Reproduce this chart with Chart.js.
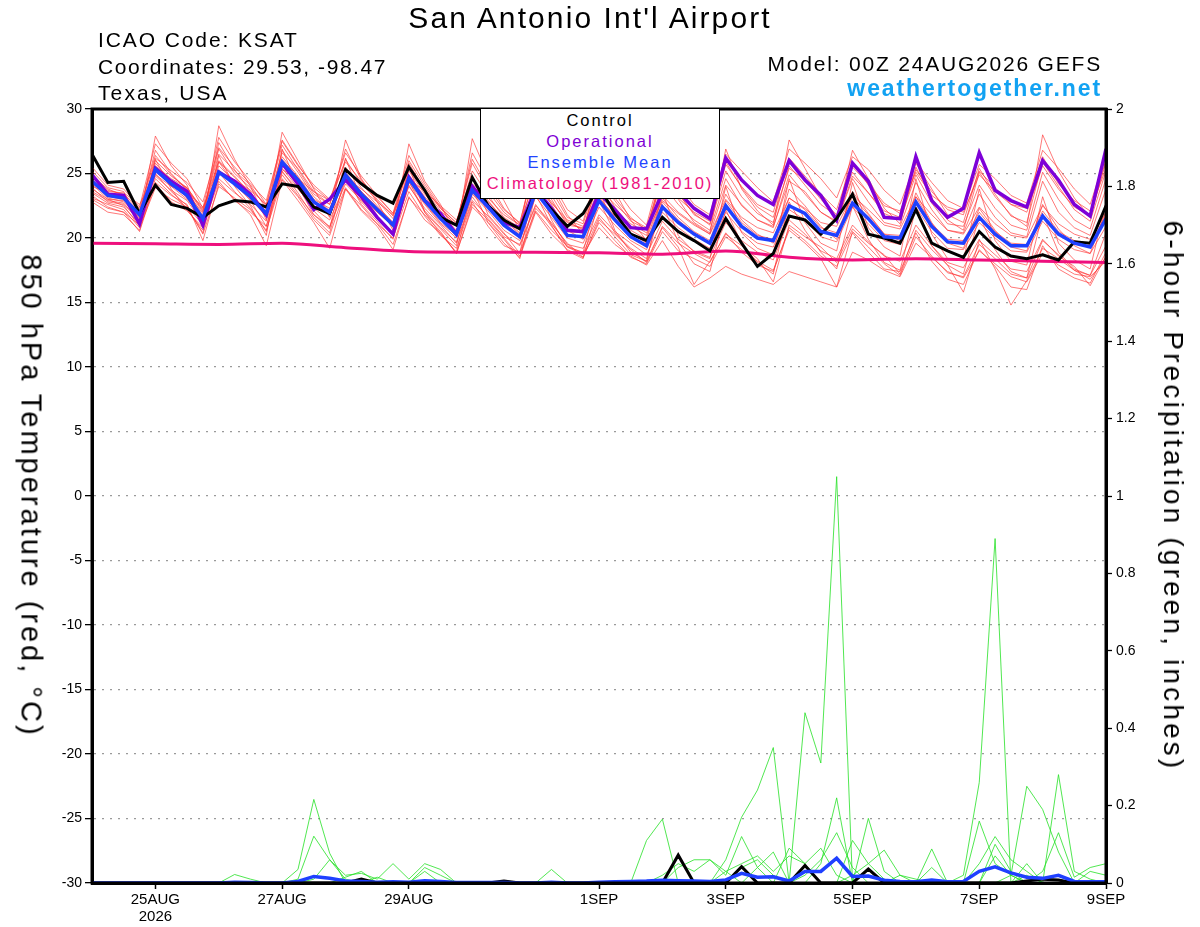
<!DOCTYPE html>
<html>
<head>
<meta charset="utf-8">
<title>KSAT GEFS meteogram</title>
<script src="https://cdn.jsdelivr.net/npm/chart.js@4.4.1/dist/chart.umd.min.js"></script>
<style>
  body { margin: 0; background: #fff; }
  #wrap { position: relative; width: 1200px; height: 927px; overflow: hidden;
          font-family: "Liberation Sans", Arial, sans-serif; color: #000; }
  #meteogram { position: absolute; left: 0; top: 0; }
  .txt { position: absolute; white-space: nowrap; }
  #title { left: 290px; width: 600px; top: 3px; text-align: center;
           font-size: 30px; line-height: 30px; letter-spacing: 2.1px; }
  .info { left: 98px; font-size: 21px; line-height: 21px; }
  #model { left: 600px; width: 502px; top: 53px; text-align: right;
           font-size: 21px; line-height: 21px; letter-spacing: 1.8px; }
  #site { left: 600px; width: 502px; top: 77px; text-align: right; font-weight: bold;
          font-size: 23px; line-height: 23px; letter-spacing: 1.9px; color: #12a2f2; }
  #legend { position: absolute; left: 480px; top: 108px; width: 240px; height: 91px;
            box-sizing: border-box; border: 1.5px solid #000; background: #fff;
            padding-top: 1px; text-align: center; font-size: 16.5px;
            line-height: 21.1px; letter-spacing: 2px; }
  .vtitle { position: absolute; white-space: nowrap; transform: translate(-50%, -50%) rotate(90deg); }
  #ltitle { left: 31px; top: 496px; font-size: 29px; letter-spacing: 3px; }
  #rtitle { left: 1173px; top: 496px; font-size: 28px; letter-spacing: 3.15px; }
</style>
</head>
<body>
<div id="wrap">
  <canvas id="meteogram" width="1200" height="927"></canvas>
  <div class="txt" id="title">San Antonio Int'l Airport</div>
  <div class="txt info" style="top:29px; letter-spacing:1.9px">ICAO Code: KSAT</div>
  <div class="txt info" style="top:55.6px; letter-spacing:1.55px">Coordinates: 29.53, -98.47</div>
  <div class="txt info" style="top:82.3px; letter-spacing:2.1px">Texas, USA</div>
  <div class="txt" id="model">Model: 00Z 24AUG2026 GEFS</div>
  <div class="txt" id="site">weathertogether.net</div>
  <div id="legend">
    <div style="color:#000">Control</div>
    <div style="color:#8000d4">Operational</div>
    <div style="color:#2244ff">Ensemble Mean</div>
    <div style="color:#ee0f7d">Climatology (1981-2010)</div>
  </div>
  <div class="vtitle" id="ltitle">850 hPa Temperature (red, °C)</div>
  <div class="vtitle" id="rtitle">6-hour Precipitation (green, inches)</div>
</div>
<script>
// time axis: hours after 00Z 24AUG2026, 6-hourly out to 384 h
const hours6 = Array.from({ length: 65 }, (_, i) => i * 6);
const hoursDaily = Array.from({ length: 17 }, (_, d) => d * 24);

const tickHours = [24, 72, 120, 192, 240, 288, 336, 384];
const tickLabels = [['25AUG', '2026'], '27AUG', '29AUG', '1SEP', '3SEP', '5SEP', '7SEP', '9SEP'];

// 850 hPa temperature (C)
const controlTemp = [
  26.5, 24.3, 24.4, 21.9, 24.1, 22.6, 22.3, 21.6, 22.5, 22.9, 22.8, 22.4, 24.2,
  24.0, 22.4, 21.9, 25.3, 24.2, 23.3, 22.7, 25.5, 23.7, 21.6, 21.0, 24.7, 22.5,
  21.4, 20.7, 23.6, 22.2, 20.9, 21.9, 24.0, 21.9, 20.3, 19.8, 21.6, 20.5, 19.8,
  19.0, 21.5, 19.6, 17.8, 18.8, 21.7, 21.4, 20.3, 21.5, 23.4, 20.3, 20.0, 19.6,
  22.2, 19.6, 19.0, 18.5, 20.5, 19.3, 18.6, 18.4, 18.7, 18.3, 19.7, 19.6, 22.5
];
const opTemp = [
  24.9, 23.4, 23.3, 21.1, 25.4, 24.4, 23.6, 21.0, 25.1, 24.4, 23.4, 21.8, 25.8,
  24.2, 22.2, 23.0, 24.5, 23.2, 21.6, 20.3, 24.7, 22.9, 21.9, 20.3, 24.0, 22.5,
  21.2, 20.8, 23.8, 22.3, 20.6, 20.5, 23.5, 22.2, 20.8, 20.7, 23.5, 23.6, 22.3,
  21.5, 26.2, 24.5, 23.3, 22.6, 26.0, 24.5, 23.3, 21.4, 25.8, 24.4, 21.6, 21.5,
  26.3, 22.9, 21.6, 22.3, 26.6, 23.7, 22.9, 22.4, 26.0, 24.5, 22.6, 21.7, 26.9
];
const meanTemp = [
  24.4, 23.3, 23.1, 21.8, 25.3, 24.2, 23.3, 21.5, 25.1, 24.2, 23.2, 21.9, 25.9,
  24.5, 22.8, 22.0, 24.9, 23.4, 22.2, 21.0, 24.6, 22.9, 21.5, 20.3, 23.7, 22.4,
  21.0, 20.1, 23.6, 22.0, 20.2, 20.1, 22.9, 21.4, 20.1, 19.4, 22.4, 21.2, 20.3,
  19.6, 22.5, 20.9, 20.0, 19.8, 22.5, 21.9, 20.5, 20.2, 22.7, 21.5, 20.1, 20.0,
  22.8, 20.9, 19.7, 19.6, 21.6, 20.3, 19.4, 19.4, 21.7, 20.3, 19.6, 19.3, 21.5
];
// daily climatology 1981-2010
const climoTemp = [19.6, 19.55, 19.5, 19.6, 19.25, 18.95, 18.9, 18.9, 18.85, 18.75, 19.0, 18.5, 18.3, 18.4, 18.3, 18.2, 18.1];

// ensemble members, one row per member
const tempMembers = [
  [25.2, 23.9, 23.6, 21.2, 27.9, 25.6, 24.1, 21.0, 28.7, 26.1, 24.0, 21.4, 28.2,
   26.0, 23.8, 21.6, 27.6, 24.6, 22.8, 20.6, 27.3, 24.4, 22.6, 20.1, 27.7, 24.8,
   22.9, 20.6, 26.8, 24.1, 21.8, 20.3, 25.8, 23.6, 21.4, 19.8, 25.3, 23.0, 21.2,
   20.4, 26.9, 23.8, 22.1, 21.0, 27.6, 25.4, 23.2, 21.5, 26.8, 24.6, 22.3, 21.1,
   25.5, 23.1, 21.4, 20.6, 25.1, 23.2, 21.8, 20.9, 28.0, 25.2, 23.1, 21.6, 25.9],
  [23.1, 22.6, 22.2, 20.8, 23.9, 23.0, 22.4, 20.3, 24.0, 23.1, 22.2, 20.6, 24.6,
   23.2, 21.4, 20.2, 23.8, 22.5, 21.1, 19.5, 23.1, 21.8, 20.5, 18.8, 22.6, 21.4,
   20.0, 18.6, 22.3, 21.1, 19.6, 18.5, 21.4, 20.3, 19.1, 18.1, 20.8, 19.3, 16.4,
   18.2, 20.3, 19.4, 18.4, 16.6, 21.0, 20.1, 19.3, 18.1, 20.7, 19.6, 18.7, 17.2,
   20.6, 19.1, 17.9, 15.8, 19.8, 18.7, 17.6, 17.4, 19.9, 18.6, 17.8, 16.3, 18.6],
  [24.9, 23.7, 23.4, 22.3, 26.4, 24.9, 23.8, 22.0, 26.9, 25.0, 23.9, 22.5, 27.2,
   25.3, 23.4, 22.6, 26.1, 24.2, 22.9, 21.5, 25.8, 23.7, 22.1, 21.0, 25.2, 23.3,
   21.6, 20.8, 25.1, 23.0, 21.0, 20.8, 24.4, 22.4, 20.9, 20.2, 24.2, 22.6, 21.4,
   20.6, 24.6, 22.5, 21.4, 20.8, 24.9, 23.4, 22.0, 21.2, 24.6, 22.8, 21.2, 20.9,
   24.3, 22.2, 20.6, 20.4, 23.4, 21.6, 20.4, 20.1, 24.4, 22.0, 20.8, 20.2, 23.8],
  [23.6, 22.9, 22.7, 21.3, 24.8, 23.7, 22.9, 21.2, 24.6, 23.5, 22.6, 21.3, 25.1,
   23.8, 22.3, 21.4, 24.2, 22.9, 21.7, 20.4, 24.0, 22.3, 21.0, 19.6, 22.9, 21.7,
   20.3, 19.4, 22.5, 21.2, 19.5, 19.2, 21.8, 20.5, 19.6, 18.7, 21.3, 19.9, 19.0,
   18.5, 21.2, 19.8, 18.9, 18.3, 21.4, 20.3, 19.0, 18.4, 21.0, 19.7, 18.6, 18.2,
   21.0, 19.4, 18.1, 17.7, 19.9, 17.6, 14.8, 16.7, 19.2, 18.4, 17.5, 17.1, 19.4],
  [24.0, 23.5, 23.2, 21.9, 26.8, 25.0, 23.7, 21.7, 27.4, 25.3, 23.6, 21.6, 26.8,
   25.1, 23.2, 22.1, 25.5, 23.9, 22.5, 21.2, 25.2, 23.4, 21.9, 20.6, 24.6, 22.9,
   21.4, 20.3, 24.7, 22.6, 20.6, 19.9, 23.6, 21.9, 20.4, 19.6, 23.1, 21.6, 20.5,
   19.8, 23.4, 21.4, 20.3, 19.6, 23.8, 22.5, 20.9, 19.9, 23.6, 21.9, 20.3, 19.8,
   23.5, 21.2, 19.6, 19.2, 22.3, 20.6, 19.3, 19.0, 22.6, 20.7, 19.4, 18.8, 22.1],
  [24.6, 23.1, 22.8, 21.6, 25.8, 24.4, 23.5, 21.9, 25.9, 24.7, 23.5, 22.0, 26.3,
   24.8, 23.0, 22.3, 25.1, 23.6, 22.4, 21.2, 24.9, 23.2, 21.8, 20.5, 24.1, 22.8,
   21.5, 20.4, 24.3, 22.8, 21.2, 20.7, 23.9, 22.6, 21.5, 20.8, 24.4, 23.1, 22.0,
   21.3, 25.7, 24.0, 22.6, 22.0, 26.2, 24.8, 23.4, 22.2, 25.9, 24.1, 22.5, 22.1,
   25.1, 23.3, 22.4, 22.0, 24.9, 23.6, 22.6, 22.3, 26.3, 24.2, 22.9, 22.1, 25.4],
  [23.3, 22.4, 22.0, 20.5, 24.3, 23.3, 22.6, 19.8, 24.2, 23.0, 21.8, 19.4, 24.5,
   22.9, 21.2, 19.2, 23.8, 22.1, 20.9, 19.1, 23.2, 21.4, 20.4, 18.8, 22.4, 21.2,
   19.6, 18.5, 22.0, 20.3, 19.1, 18.5, 21.2, 19.8, 18.5, 18.0, 20.5, 19.0, 18.4,
   17.8, 20.1, 19.1, 18.2, 17.5, 20.6, 19.6, 18.4, 16.2, 20.5, 19.3, 18.0, 17.1,
   20.1, 18.6, 17.3, 17.0, 19.5, 18.4, 17.2, 16.9, 19.8, 18.7, 17.5, 16.8, 18.5],
  [24.2, 23.0, 22.9, 22.0, 25.6, 24.6, 23.9, 22.2, 26.0, 24.8, 23.4, 22.2, 25.6,
   24.2, 22.5, 21.8, 24.6, 23.1, 22.0, 20.9, 24.3, 22.6, 21.1, 20.0, 23.4, 22.1,
   20.6, 19.8, 23.2, 21.6, 20.0, 19.6, 22.4, 21.0, 19.8, 19.1, 22.0, 20.8, 19.9,
   19.2, 22.0, 20.5, 19.6, 19.3, 22.2, 21.4, 20.1, 19.7, 22.4, 21.1, 19.8, 19.5,
   22.4, 20.5, 19.2, 19.1, 21.2, 20.0, 19.0, 18.9, 21.3, 19.9, 19.1, 18.8, 20.9],
  [25.5, 24.1, 23.8, 22.4, 27.3, 25.8, 24.6, 22.3, 27.8, 25.9, 24.4, 22.6, 27.6,
   25.7, 23.9, 22.9, 26.6, 24.8, 23.3, 21.9, 26.4, 24.2, 22.4, 21.1, 26.1, 23.9,
   22.2, 21.2, 25.9, 23.7, 21.6, 21.1, 25.1, 23.1, 21.6, 20.6, 25.0, 23.4, 21.9,
   21.0, 25.2, 23.2, 21.9, 21.2, 25.6, 24.1, 22.6, 21.7, 25.1, 23.5, 21.9, 21.4,
   24.9, 22.7, 21.1, 20.9, 24.1, 22.3, 21.0, 20.6, 25.1, 23.0, 21.4, 20.7, 24.6],
  [23.8, 23.0, 22.5, 20.9, 26.1, 23.8, 22.2, 20.6, 26.4, 24.0, 22.5, 20.2, 26.9,
   24.0, 21.8, 20.7, 26.2, 23.0, 21.5, 20.2, 25.6, 22.0, 20.7, 19.4, 24.8, 21.8,
   20.4, 18.8, 24.6, 21.4, 19.3, 18.9, 23.8, 20.6, 18.9, 18.2, 23.6, 20.2, 18.9,
   18.4, 24.0, 20.4, 19.2, 18.7, 24.6, 21.2, 19.6, 19.0, 24.3, 20.8, 19.3, 18.6,
   24.6, 20.3, 18.4, 18.3, 23.8, 19.8, 18.2, 17.9, 23.2, 19.6, 18.3, 17.6, 22.8],
  [24.7, 23.6, 23.5, 22.6, 24.9, 24.0, 23.6, 22.4, 25.0, 24.5, 23.7, 22.6, 25.3,
   24.6, 23.6, 22.9, 24.7, 23.8, 22.8, 21.8, 24.6, 23.6, 22.5, 21.4, 24.2, 23.1,
   21.8, 21.0, 23.9, 22.7, 21.4, 20.9, 23.3, 22.1, 21.1, 20.4, 22.9, 21.9, 21.0,
   20.3, 23.0, 21.6, 20.8, 20.4, 23.1, 22.3, 21.2, 20.9, 23.3, 22.2, 21.0, 20.7,
   23.2, 21.8, 20.6, 20.3, 22.4, 21.1, 20.2, 20.0, 22.5, 21.1, 20.3, 19.9, 22.0],
  [23.0, 22.3, 22.0, 21.0, 24.2, 22.8, 22.1, 20.8, 24.4, 22.9, 22.0, 20.9, 24.9,
   23.3, 21.8, 20.9, 23.9, 22.2, 21.1, 20.0, 23.6, 21.7, 20.2, 19.2, 22.8, 20.9,
   19.4, 18.9, 22.1, 20.6, 19.4, 18.8, 21.6, 20.1, 18.7, 18.2, 20.9, 19.6, 18.8,
   18.1, 20.4, 18.9, 17.9, 17.4, 20.8, 19.8, 18.6, 17.8, 20.4, 18.9, 17.6, 17.4,
   20.4, 18.2, 16.8, 16.4, 19.1, 17.8, 16.2, 16.0, 19.4, 17.6, 16.9, 16.5, 18.9],
  [24.3, 23.2, 23.0, 21.5, 25.1, 24.3, 23.1, 21.3, 25.6, 24.4, 23.0, 21.7, 26.1,
   24.7, 22.9, 21.7, 25.0, 23.6, 22.3, 20.8, 24.8, 23.0, 21.6, 20.1, 23.9, 22.6,
   21.1, 20.0, 23.8, 22.2, 20.3, 20.0, 23.2, 21.6, 20.2, 19.3, 22.8, 21.4, 20.4,
   19.5, 22.9, 21.2, 20.2, 19.9, 23.1, 22.2, 20.8, 20.4, 23.2, 21.8, 20.3, 20.2,
   23.2, 21.1, 19.9, 19.8, 22.0, 20.5, 19.6, 19.5, 22.1, 20.5, 19.8, 19.5, 21.8],
  [23.9, 22.8, 22.6, 21.4, 25.5, 24.0, 23.0, 21.6, 25.3, 24.1, 23.1, 21.8, 25.7,
   24.3, 22.7, 21.9, 24.8, 23.2, 22.0, 21.0, 24.5, 22.7, 21.2, 20.2, 23.5, 22.3,
   21.2, 20.2, 23.5, 22.1, 20.5, 20.4, 23.1, 21.7, 20.6, 19.9, 23.3, 22.0, 21.1,
   20.3, 24.1, 22.6, 21.4, 20.9, 24.4, 23.6, 22.0, 21.3, 24.8, 23.5, 22.1, 21.6,
   25.3, 23.6, 22.2, 21.8, 25.2, 23.9, 22.6, 22.0, 25.6, 23.8, 22.4, 21.7, 26.1],
  [23.5, 22.7, 22.4, 21.1, 25.0, 23.6, 22.5, 21.0, 25.9, 24.2, 22.9, 20.9, 25.4,
   23.9, 22.1, 20.8, 24.5, 22.8, 21.5, 20.3, 24.1, 22.1, 20.8, 19.7, 23.2, 21.5,
   20.1, 19.5, 22.6, 20.9, 19.3, 18.7, 20.8, 19.5, 18.6, 17.9, 19.8, 17.8, 16.2,
   16.9, 17.8, 17.2, 16.8, 16.4, 17.4, 17.0, 16.6, 16.2, 18.9, 18.3, 17.5, 17.0,
   19.6, 18.5, 17.4, 16.9, 19.0, 18.0, 17.0, 16.6, 18.8, 17.9, 17.2, 17.0, 18.2],
  [24.8, 23.8, 23.3, 21.7, 26.0, 24.8, 23.9, 22.1, 26.5, 25.2, 24.1, 22.3, 26.6,
   25.4, 23.6, 22.6, 26.9, 24.5, 23.0, 21.7, 26.0, 24.0, 22.3, 20.9, 26.6, 24.4,
   22.3, 21.1, 26.3, 24.4, 22.2, 21.3, 25.5, 23.9, 22.2, 21.0, 25.6, 24.2, 22.6,
   21.8, 26.5, 25.2, 23.9, 22.8, 26.9, 25.8, 24.6, 23.1, 26.3, 25.3, 23.7, 22.6,
   25.9, 24.3, 22.9, 22.3, 25.7, 24.6, 23.3, 22.7, 26.8, 25.4, 23.8, 22.6, 26.4],
  [22.8, 22.0, 21.8, 20.6, 24.6, 23.4, 22.3, 20.4, 25.1, 23.6, 22.3, 20.5, 25.2,
   23.5, 21.6, 20.4, 24.8, 22.6, 21.3, 19.9, 24.4, 22.0, 20.3, 18.9, 23.8, 21.2,
   19.9, 18.4, 23.4, 21.0, 19.0, 18.4, 22.9, 20.4, 19.2, 18.4, 22.6, 19.7, 18.0,
   17.4, 22.2, 19.6, 18.1, 17.2, 22.8, 20.6, 18.9, 17.6, 22.5, 19.9, 18.1, 17.5,
   22.3, 19.4, 17.9, 17.2, 21.7, 19.1, 17.4, 16.9, 21.9, 18.9, 17.6, 17.1, 20.4],
  [24.5, 23.4, 23.3, 22.1, 26.2, 25.2, 24.3, 22.8, 27.0, 25.5, 24.2, 22.9, 27.5,
   25.6, 24.1, 23.0, 25.9, 24.4, 23.2, 21.9, 25.4, 23.8, 22.3, 21.2, 25.8, 23.6,
   22.0, 21.0, 24.9, 23.3, 21.3, 20.6, 24.7, 22.9, 21.3, 20.7, 25.1, 23.5, 21.8,
   21.1, 25.9, 23.9, 22.4, 21.6, 25.4, 24.5, 23.0, 21.8, 25.5, 24.2, 22.7, 21.9,
   25.8, 23.8, 21.8, 21.2, 25.4, 23.4, 21.7, 21.2, 25.9, 24.0, 22.2, 21.3, 25.2]
];

// 6-hour precipitation (inches)
const controlPrecip = [
  0, 0, 0, 0, 0, 0, 0, 0, 0, 0, 0, 0, 0,
  0, 0, 0, 0, 0.01, 0, 0, 0, 0, 0, 0, 0, 0,
  0.005, 0, 0, 0, 0, 0, 0, 0, 0, 0, 0, 0.072, 0,
  0, 0, 0.042, 0, 0, 0, 0.045, 0, 0, 0, 0.036, 0, 0,
  0, 0, 0, 0, 0, 0, 0, 0.005, 0.01, 0.008, 0, 0, 0
];
const meanPrecip = [
  0, 0, 0, 0, 0, 0, 0, 0, 0, 0.002, 0.001, 0, 0,
  0.004, 0.017, 0.012, 0.005, 0.004, 0.002, 0.003, 0.002, 0.006, 0.004, 0.001, 0.001, 0.001,
  0.001, 0, 0, 0.002, 0, 0, 0.002, 0.003, 0.004, 0.005, 0.007, 0.006, 0.005,
  0.004, 0.008, 0.025, 0.015, 0.016, 0.005, 0.03, 0.03, 0.064, 0.017, 0.018, 0.007, 0.004,
  0.003, 0.008, 0.003, 0.004, 0.03, 0.042, 0.026, 0.015, 0.012, 0.02, 0.004, 0.003, 0.003
];
const precipMembers = [
  [0, 0, 0, 0, 0, 0, 0, 0, 0, 0, 0, 0, 0,
   0.035, 0.216, 0.077, 0, 0, 0, 0, 0, 0, 0, 0, 0, 0,
   0, 0, 0, 0, 0, 0, 0, 0, 0, 0, 0, 0, 0,
   0, 0.06, 0.17, 0.24, 0.35, 0, 0, 0, 0, 0, 0, 0, 0,
   0, 0, 0, 0, 0, 0, 0.02, 0, 0, 0, 0, 0, 0],
  [0, 0, 0, 0, 0, 0, 0, 0, 0, 0, 0, 0, 0,
   0.01, 0.121, 0.06, 0.01, 0, 0, 0, 0, 0, 0, 0, 0, 0,
   0, 0, 0, 0, 0, 0, 0, 0, 0, 0, 0, 0, 0,
   0, 0, 0, 0, 0, 0, 0.44, 0.31, 1.05, 0, 0, 0, 0,
   0, 0, 0, 0, 0, 0, 0, 0, 0, 0, 0, 0, 0],
  [0, 0, 0, 0, 0, 0, 0, 0, 0, 0, 0, 0, 0,
   0, 0.01, 0.06, 0.02, 0.025, 0.01, 0.05, 0.01, 0.05, 0.035, 0, 0, 0,
   0, 0, 0, 0, 0, 0, 0, 0, 0, 0.11, 0.165, 0, 0,
   0, 0, 0, 0, 0, 0, 0, 0, 0, 0, 0, 0, 0,
   0, 0, 0, 0, 0, 0, 0, 0, 0, 0, 0, 0, 0],
  [0, 0, 0, 0, 0, 0, 0, 0, 0, 0.022, 0.01, 0, 0,
   0, 0, 0, 0, 0, 0.015, 0, 0, 0.04, 0.02, 0, 0, 0,
   0, 0, 0, 0.035, 0, 0, 0, 0, 0, 0, 0, 0, 0,
   0, 0, 0, 0, 0, 0, 0, 0, 0, 0.11, 0.05, 0.085, 0.02,
   0, 0.088, 0, 0, 0, 0, 0, 0, 0, 0, 0, 0, 0],
  [0, 0, 0, 0, 0, 0, 0, 0, 0, 0, 0, 0, 0,
   0, 0, 0, 0, 0, 0, 0, 0, 0, 0, 0, 0, 0,
   0, 0, 0, 0, 0, 0, 0, 0, 0, 0, 0, 0, 0,
   0, 0, 0.04, 0.06, 0.02, 0, 0, 0, 0, 0, 0, 0, 0,
   0, 0, 0, 0.02, 0.26, 0.89, 0, 0.05, 0, 0, 0, 0, 0],
  [0, 0, 0, 0, 0, 0, 0, 0, 0, 0, 0, 0, 0,
   0, 0, 0, 0.015, 0.03, 0, 0, 0, 0.03, 0, 0, 0, 0,
   0, 0, 0, 0, 0, 0, 0, 0, 0, 0, 0, 0, 0,
   0, 0, 0, 0, 0, 0, 0, 0.05, 0.22, 0, 0.167, 0.03, 0,
   0, 0, 0, 0, 0, 0, 0, 0, 0, 0, 0, 0, 0],
  [0, 0, 0, 0, 0, 0, 0, 0, 0, 0, 0, 0, 0,
   0, 0, 0, 0, 0, 0, 0, 0, 0, 0, 0, 0, 0,
   0, 0, 0, 0, 0, 0, 0, 0, 0, 0, 0, 0, 0,
   0, 0, 0, 0, 0, 0, 0, 0, 0, 0, 0, 0, 0,
   0, 0, 0, 0, 0.16, 0.05, 0.02, 0.25, 0.19, 0.08, 0, 0, 0],
  [0, 0, 0, 0, 0, 0, 0, 0, 0, 0, 0, 0, 0,
   0, 0, 0, 0, 0, 0, 0, 0, 0, 0, 0, 0, 0,
   0, 0, 0, 0, 0, 0, 0, 0, 0, 0, 0, 0, 0,
   0, 0.03, 0.05, 0.07, 0.03, 0.07, 0.05, 0.09, 0.02, 0, 0, 0, 0,
   0, 0, 0, 0, 0, 0, 0, 0.02, 0, 0.28, 0.03, 0.01, 0],
  [0, 0, 0, 0, 0, 0, 0, 0, 0, 0, 0, 0, 0,
   0, 0, 0, 0, 0, 0, 0, 0, 0, 0, 0, 0, 0,
   0, 0, 0, 0, 0, 0, 0, 0, 0, 0, 0, 0, 0,
   0, 0, 0, 0, 0, 0, 0, 0, 0, 0.02, 0.05, 0.01, 0,
   0, 0.04, 0, 0, 0, 0.1, 0.03, 0, 0.03, 0.13, 0.015, 0.04, 0.05],
  [0, 0, 0, 0, 0, 0, 0, 0, 0, 0, 0, 0, 0,
   0, 0, 0, 0, 0, 0, 0, 0, 0, 0, 0, 0, 0,
   0, 0, 0, 0, 0, 0, 0, 0, 0, 0, 0, 0, 0,
   0, 0, 0, 0.04, 0.08, 0, 0.02, 0.06, 0.13, 0.04, 0, 0, 0,
   0, 0, 0, 0, 0.05, 0.12, 0.06, 0.03, 0, 0, 0, 0, 0],
  [0, 0, 0, 0, 0, 0, 0, 0, 0, 0, 0, 0, 0,
   0, 0, 0, 0, 0, 0, 0, 0, 0, 0, 0, 0, 0,
   0, 0, 0, 0, 0, 0, 0, 0, 0, 0, 0.02, 0.05, 0.03,
   0.06, 0.03, 0, 0, 0, 0.09, 0.05, 0, 0, 0, 0, 0, 0,
   0, 0, 0, 0, 0, 0, 0, 0, 0, 0, 0, 0.03, 0.02],
  [0, 0, 0, 0, 0, 0, 0, 0, 0, 0, 0, 0, 0,
   0, 0, 0, 0, 0, 0, 0, 0, 0, 0, 0, 0, 0,
   0, 0, 0, 0, 0, 0, 0, 0, 0, 0, 0, 0.04, 0.06,
   0.06, 0.02, 0.12, 0.04, 0, 0, 0, 0, 0, 0, 0, 0, 0.02,
   0.01, 0, 0, 0, 0, 0.07, 0.02, 0, 0, 0, 0, 0, 0]
];

const toPoints = (hrs, vals) => vals.map((v, i) => ({ x: hrs[i], y: v }));

const datasets = [];
tempMembers.forEach((m) => datasets.push({
  data: toPoints(hours6, m), yAxisID: 'y', order: 6,
  borderColor: 'rgba(255, 55, 55, 0.75)', borderWidth: 0.9
}));
precipMembers.forEach((m) => datasets.push({
  data: toPoints(hours6, m), yAxisID: 'y2', order: 5,
  borderColor: 'rgba(40, 225, 40, 0.9)', borderWidth: 0.9
}));
datasets.push(
  { label: 'Climatology (1981-2010)', data: toPoints(hoursDaily, climoTemp), yAxisID: 'y', order: 4,
    borderColor: '#ee0f7d', borderWidth: 3, cubicInterpolationMode: 'monotone' },
  { label: 'Operational', data: toPoints(hours6, opTemp), yAxisID: 'y', order: 3,
    borderColor: '#7e00d8', borderWidth: 3.5 },
  { label: 'Control', data: toPoints(hours6, controlTemp), yAxisID: 'y', order: 2,
    borderColor: '#000', borderWidth: 3 },
  { label: 'Ensemble Mean', data: toPoints(hours6, meanTemp), yAxisID: 'y', order: 1,
    borderColor: '#1f40ff', borderWidth: 3.5 },
  { label: 'Control precip', data: toPoints(hours6, controlPrecip), yAxisID: 'y2', order: 2,
    borderColor: '#000', borderWidth: 3 },
  { label: 'Mean precip', data: toPoints(hours6, meanPrecip), yAxisID: 'y2', order: 1,
    borderColor: '#1f40ff', borderWidth: 3.5 }
);

// heavy black box around the plot area
const framePlugin = {
  id: 'frame',
  afterDatasetsDraw(chart) {
    const { ctx, chartArea: a } = chart;
    ctx.save();
    ctx.strokeStyle = '#000';
    ctx.lineWidth = 3;
    ctx.strokeRect(a.left, a.top, a.right - a.left, a.bottom - a.top);
    ctx.restore();
  }
};

Chart.defaults.font.family = '"Liberation Sans", Arial, sans-serif';
Chart.defaults.color = '#000';

new Chart(document.getElementById('meteogram'), {
  type: 'line',
  data: { datasets: datasets },
  plugins: [framePlugin],
  options: {
    responsive: false,
    animation: false,
    events: [],
    layout: { padding: { top: 109, left: 0, right: 0, bottom: 0 } },
    elements: { point: { radius: 0 }, line: { tension: 0, fill: false } },
    plugins: { legend: { display: false }, tooltip: { enabled: false } },
    scales: {
      x: {
        type: 'linear', min: 0, max: 384,
        afterFit: (s) => { s.height = 44; },
        afterBuildTicks: (s) => { s.ticks = tickHours.map((h) => ({ value: h })); },
        ticks: {
          autoSkip: false, maxRotation: 0, padding: 2,
          font: { size: 15, lineHeight: 1.15 },
          callback: (v, i) => tickLabels[i]
        },
        grid: { drawOnChartArea: false, tickLength: 6, tickColor: '#000', tickWidth: 1.5 },
        border: { color: '#000', width: 3 }
      },
      y: {
        position: 'left', min: -30, max: 30,
        afterFit: (s) => { s.width = 92; },
        ticks: { stepSize: 5, padding: 3, font: { size: 14 } },
        grid: { color: '#9a9a9a', lineWidth: 1.3, tickColor: '#000', tickWidth: 1.3, tickLength: 7 },
        border: { color: '#000', width: 3, dash: [2, 6] }
      },
      y2: {
        position: 'right', min: 0, max: 2,
        afterFit: (s) => { s.width = 94; },
        ticks: { stepSize: 0.2, padding: 4, font: { size: 14 },
                 callback: (v) => String(Number(v.toFixed(1))) },
        grid: { drawOnChartArea: false, tickColor: '#000', tickWidth: 1.3, tickLength: 6 },
        border: { color: '#000', width: 3 }
      }
    }
  }
});
</script>
</body>
</html>
